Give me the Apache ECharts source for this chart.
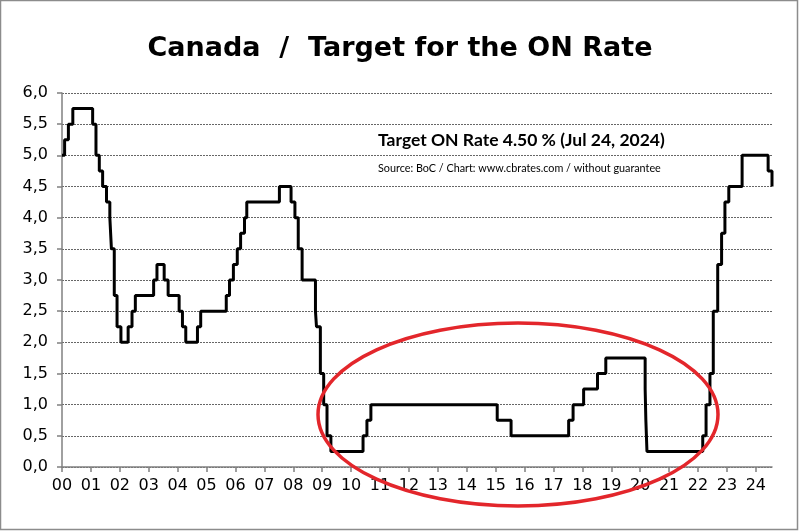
<!DOCTYPE html>
<html>
<head>
<meta charset="utf-8">
<script src="https://cdn.jsdelivr.net/npm/echarts@6/dist/echarts.min.js"></script>
<style>html,body{margin:0;padding:0;background:#fff}#c{width:800px;height:531px}</style>
</head>
<body>
<div id="c"></div>
<script>
// Bank of Canada target for the overnight rate: change dates and new levels
const changeDates = [
  '2000-01-01','2000-02-03','2000-03-22','2000-05-17',
  '2001-01-23','2001-03-06','2001-04-17','2001-05-29','2001-07-17','2001-08-28','2001-09-17','2001-10-23','2001-11-27',
  '2002-01-15','2002-04-16','2002-06-04','2002-07-16',
  '2003-03-04','2003-04-15','2003-07-15','2003-09-03',
  '2004-01-20','2004-03-02','2004-04-13','2004-09-08','2004-10-19',
  '2005-09-07','2005-10-18','2005-12-06',
  '2006-01-24','2006-03-07','2006-04-25','2006-05-24',
  '2007-07-10','2007-12-04',
  '2008-01-22','2008-03-04','2008-04-22','2008-10-08','2008-10-21','2008-12-09',
  '2009-01-20','2009-03-03','2009-04-21',
  '2010-06-01','2010-07-20','2010-09-08',
  '2015-01-21','2015-07-15',
  '2017-07-12','2017-09-06',
  '2018-01-17','2018-07-11','2018-10-24',
  '2020-03-04','2020-03-13','2020-03-27',
  '2022-03-02','2022-04-13','2022-06-01','2022-07-13','2022-09-07','2022-10-26','2022-12-07',
  '2023-01-25','2023-07-12',
  '2024-06-05','2024-07-24'
];
const rates = [
  5.00,5.25,5.50,5.75,
  5.50,5.00,4.75,4.50,4.25,4.00,3.50,2.75,2.25,
  2.00,2.25,2.50,2.75,
  3.00,3.25,3.00,2.75,
  2.50,2.25,2.00,2.25,2.50,
  2.75,3.00,3.25,
  3.50,3.75,4.00,4.25,
  4.50,4.25,
  4.00,3.50,3.00,2.50,2.25,1.50,
  1.00,0.50,0.25,
  0.50,0.75,1.00,
  0.75,0.50,
  0.75,1.00,
  1.25,1.50,1.75,
  1.25,0.75,0.25,
  0.50,1.00,1.50,2.50,3.25,3.75,4.25,
  4.50,5.00,
  4.75,4.50
];
const yearTicks = [2000,2001,2002,2003,2004,2005,2006,2007,2008,2009,2010,2011,2012,2013,2014,2015,2016,2017,2018,2019,2020,2021,2022,2023,2024];
const titleText = 'Canada  /  Target for the ON Rate';
const noteText = 'Target ON Rate 4.50 % (Jul 24, 2024)';
const sourceText = 'Source: BoC / Chart: www.cbrates.com / without guarantee';

function toYear(s) {
  const p = s.split('-').map(Number);
  const t = Date.UTC(p[0], p[1]-1, p[2]);
  const a = Date.UTC(p[0], 0, 1), b = Date.UTC(p[0]+1, 0, 1);
  return p[0] + (t - a) / (b - a);
}
const seriesData = changeDates.map((d, i) => [toYear(d), rates[i]]);
const xMax = toYear(changeDates[changeDates.length - 1]);

const chart = echarts.init(document.getElementById('c'), null, {renderer: 'canvas'});
chart.setOption({
  animation: false,
  backgroundColor: '#fff',
  title: {
    text: titleText, left: 'center', top: 30,
    textStyle: {fontFamily: 'DejaVu Sans', fontWeight: 'bold', fontSize: 27, color: '#000'}
  },
  grid: {left: 62, right: 28, top: 93, bottom: 64},
  xAxis: {
    type: 'value', min: 2000, max: xMax, interval: 1,
    axisLine: {lineStyle: {color: '#808080', width: 1.5}},
    axisTick: {show: true, length: 5, customValues: yearTicks, lineStyle: {color: '#808080', width: 1.5}},
    axisLabel: {
      customValues: yearTicks, margin: 11,
      fontFamily: 'DejaVu Sans', fontSize: 16, color: '#000',
      formatter: v => String(Math.round(v) % 100).padStart(2, '0')
    },
    splitLine: {show: false}
  },
  yAxis: {
    type: 'value', min: 0, max: 6, interval: 0.5,
    axisLine: {show: true, lineStyle: {color: '#808080', width: 1.5}},
    axisTick: {show: true, length: 5, lineStyle: {color: '#808080', width: 1.5}},
    axisLabel: {
      margin: 14, fontFamily: 'DejaVu Sans', fontSize: 16, color: '#000',
      formatter: v => v.toFixed(1).replace('.', ',')
    },
    splitLine: {show: true, lineStyle: {color: '#666', width: 1, type: [2, 1]}}
  },
  series: [{
    type: 'line', step: 'end', data: seriesData, symbol: 'none',
    lineStyle: {color: '#000', width: 3}, z: 3
  }],
  graphic: [
    {type: 'rect', shape: {x: 0.5, y: 0.5, width: 797, height: 529}, style: {fill: 'none', stroke: '#8c8c8c', lineWidth: 1.5}, z: 100},
    {type: 'text', left: 378, top: 131, style: {text: noteText, font: 'bold 17.5px Lato', fill: '#000'}, z: 10},
    {type: 'text', left: 378, top: 163, style: {text: sourceText, font: '10.8px Lato', fill: '#000'}, z: 10},
    {type: 'ellipse', shape: {cx: 518, cy: 414.5, rx: 200, ry: 91.5}, style: {fill: 'none', stroke: '#e3262b', lineWidth: 3.5}, z: 20}
  ]
});
</script>
</body>
</html>
